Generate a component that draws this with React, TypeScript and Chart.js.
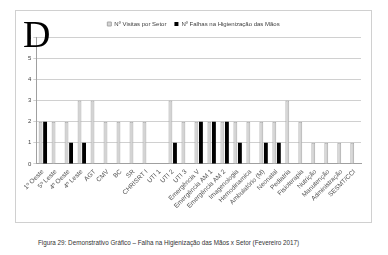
import React, { useEffect, useRef } from "react";
import { Chart, registerables } from "chart.js";

Chart.register(...registerables);

const categories = [
  "1º Oeste", "5º Leste", "4º Oeste", "4º Leste", "AGT", "CMV", "BC", "SR", "CHRISRT I",
  "UTI 1", "UTI 2", "UTI 3", "Emergência V", "Emergência AM 1", "Emergência AM 2",
  "Imagenologia", "Hemodinamica", "Ambulatório (M)", "Neonatal", "Pediatria",
  "Fisioterapia", "Nutrição", "Manutenção", "Administração", "SESMT/CCI",
];
const visitas = [2, 2, 2, 3, 3, 2, 2, 2, 2, 0, 3, 2, 2, 2, 2, 2, 2, 2, 2, 3, 2, 1, 1, 1, 1];
const falhas = [2, 0, 1, 1, 0, 0, 0, 0, 0, 0, 1, 0, 2, 2, 2, 1, 0, 1, 1, 0, 0, 0, 0, 0, 0];
const yTicks = [0, 1, 2, 3, 4, 5, 6];
const seriesNames = ["Nº Visitas por Setor", "Nº Falhas na Higienização das Mãos"];
const caption = "Figura 29: Demonstrativo Gráfico – Falha na Higienização das Mãos x Setor (Fevereiro 2017)";

export default function App() {
  const ref = useRef<HTMLCanvasElement | null>(null);
  useEffect(() => {
    document.body.style.margin = "0";
    const chart = new Chart(ref.current!, {
      type: "bar",
      data: {
        labels: categories,
        datasets: [
          {
            label: seriesNames[0],
            data: visitas,
            backgroundColor: "#d4d4d4",
            borderColor: "#a8a8a8",
            borderWidth: 1,
            categoryPercentage: 0.7,
            barPercentage: 0.85,
          },
          {
            label: seriesNames[1],
            data: falhas,
            backgroundColor: "#000000",
            borderColor: "#000000",
            borderWidth: 0,
            categoryPercentage: 0.7,
            barPercentage: 0.85,
          },
        ],
      },
      options: {
        animation: false,
        responsive: false,
        maintainAspectRatio: false,
        layout: { padding: { left: 10, right: 10, top: 2, bottom: 11 } },
        plugins: {
          legend: {
            position: "top",
            labels: {
              boxWidth: 4,
              boxHeight: 4,
              padding: 8,
              color: "#404040",
              font: { size: 6, family: "Liberation Sans" },
            },
          },
          tooltip: { enabled: false },
        },
        scales: {
          x: {
            grid: { display: false, drawTicks: true, tickLength: 3 },
            border: { color: "#a0a0a0" },
            ticks: {
              color: "#505050",
              font: { size: 6.5, family: "Liberation Sans" },
              minRotation: 45,
              maxRotation: 45,
              autoSkip: false,
              padding: 1,
            },
          },
          y: {
            min: 0,
            max: 6,
            afterBuildTicks: (s: any) => {
              s.ticks = yTicks.map((v) => ({ value: v }));
            },
            grid: { color: "#d0d0d0", lineWidth: 1, tickLength: 3 },
            border: { color: "#a0a0a0" },
            ticks: {
              color: "#404040",
              font: { size: 6, family: "Liberation Sans" },
              padding: 2,
            },
          },
        },
      },
    });
    return () => chart.destroy();
  }, []);

  return (
    <div style={{ position: "fixed", left: 0, top: 0, width: 388, height: 255, background: "#fff", overflow: "hidden" }}>
      <div style={{ position: "absolute", left: 15, top: 10, width: 355, height: 211, border: "1px solid #d0d0d0" }}>
        <canvas ref={ref} width={355} height={211} style={{ width: 355, height: 211, display: "block" }} />
      </div>
      <div style={{ position: "absolute", left: 23, top: 14, fontFamily: "Liberation Serif", fontSize: 38, lineHeight: "40px", color: "#000" }}>D</div>
      <div style={{ position: "absolute", left: 38, top: 239, fontFamily: "Liberation Sans", fontSize: 6.3, color: "#333", whiteSpace: "nowrap" }}>{caption}</div>
    </div>
  );
}
